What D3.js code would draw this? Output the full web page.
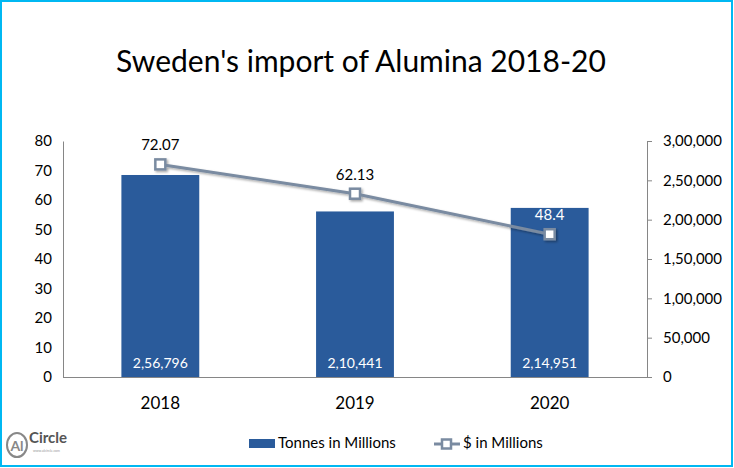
<!DOCTYPE html>
<html><head><meta charset="utf-8">
<script src="https://cdn.jsdelivr.net/npm/d3@7"></script>
<style>body{margin:0;background:#fff}svg{display:block}text{font-family:Lato,"Open Sans",sans-serif}</style>
</head><body><svg id="c" width="734" height="468"></svg>
<script>
const years = ["2018","2019","2020"];
const tonnes = [256796, 210441, 214951];
const dollars = [72.07, 62.13, 48.4];
const leftTicks = [0,10,20,30,40,50,60,70,80];
const rightTicks = [0,50000,100000,150000,200000,250000,300000];
const title = "Sweden's import of Alumina 2018-20";

const svg = d3.select("#c");
const L = 63, R = 647, T = 141, B = 377;
const barColor = "#2A5B9B", lineColor = "#7A8BA1";

svg.append("rect").attr("x",1).attr("y",1).attr("width",731).attr("height",465)
  .attr("fill","#fff").attr("stroke","#00B8F2").attr("stroke-width",2);

svg.append("text").attr("x",361).attr("y",72).attr("text-anchor","middle")
  .attr("font-size",30).attr("fill","#000").text(title);

const x = d3.scaleBand().domain(years).range([L,R]);
const yL = d3.scaleLinear().domain([0,80]).range([B,T]);
const yR = d3.scaleLinear().domain([0,300000]).range([B,T]);
const inr = v => { const s = String(v); if (s.length<=3) return s; const last3 = s.slice(-3); let rest = s.slice(0,-3); rest = rest.replace(/\B(?=(\d{2})+(?!\d))/g, ","); return rest+","+last3; };

// bars
const bw = x.bandwidth()*0.4;
svg.selectAll(".bar").data(years).enter().append("rect")
  .attr("x",d=>x(d)+x.bandwidth()/2-bw/2).attr("width",bw)
  .attr("y",(d,i)=>yR(tonnes[i])).attr("height",(d,i)=>B-yR(tonnes[i]))
  .attr("fill",barColor);
svg.selectAll(".bl").data(years).enter().append("text")
  .attr("x",d=>x(d)+x.bandwidth()/2).attr("y",368).attr("text-anchor","middle")
  .attr("font-size",14).attr("fill","#fff").text((d,i)=>inr(tonnes[i]));

// axes
const gl = svg.append("g").attr("transform",`translate(${L},0)`)
  .call(d3.axisLeft(yL).tickValues(leftTicks).tickSize(0).tickPadding(11));
gl.select(".domain").attr("stroke","#868686");
gl.selectAll("text").attr("font-size",15).attr("fill","#000").style("font-family","Lato,sans-serif");
const gr = svg.append("g").attr("transform",`translate(${R},0)`)
  .call(d3.axisRight(yR).tickValues(rightTicks).tickSize(5).tickPadding(11).tickFormat(inr).tickSizeOuter(0));
gr.select(".domain").attr("stroke","#868686");
gr.selectAll("line").attr("stroke","#868686");
gr.selectAll("text").attr("font-size",15).attr("fill","#000").style("font-family","Lato,sans-serif");
svg.append("line").attr("x1",L).attr("x2",R+5).attr("y1",B+0.5).attr("y2",B+0.5).attr("stroke","#868686");
svg.selectAll(".xl").data(years).enter().append("text")
  .attr("x",d=>x(d)+x.bandwidth()/2).attr("y",409).attr("text-anchor","middle")
  .attr("font-size",17).attr("fill","#000").text(d=>d);

// line
const defs = svg.append("defs");
const f = defs.append("filter").attr("id","sh").attr("x","-20%").attr("y","-50%").attr("width","140%").attr("height","200%");
f.append("feDropShadow").attr("dx",1.5).attr("dy",1.5).attr("stdDeviation",1.2).attr("flood-color","#000").attr("flood-opacity",0.35);
const pts = years.map((d,i)=>[x(d)+x.bandwidth()/2, yL(dollars[i])]);
const lg = svg.append("g").attr("filter","url(#sh)");
lg.append("path").attr("d",d3.line()(pts)).attr("fill","none").attr("stroke",lineColor).attr("stroke-width",3);
lg.selectAll("rect").data(pts).enter().append("rect")
  .attr("x",p=>p[0]-5).attr("y",p=>p[1]-5).attr("width",10).attr("height",10)
  .attr("fill","#fff").attr("stroke",lineColor).attr("stroke-width",2.5);
svg.selectAll(".ll").data(pts).enter().append("text")
  .attr("x",p=>p[0]).attr("y",p=>p[1]-14).attr("text-anchor","middle")
  .attr("font-size",15).attr("fill",(p,i)=>i===2?"#fff":"#000").text((p,i)=>dollars[i]);

// legend
svg.append("rect").attr("x",249).attr("y",439).attr("width",26).attr("height",9).attr("fill",barColor);
svg.append("text").attr("x",278).attr("y",448).attr("font-size",15).attr("fill","#000").text("Tonnes in Millions");
svg.append("line").attr("x1",434).attr("x2",460).attr("y1",444).attr("y2",444).attr("stroke",lineColor).attr("stroke-width",3);
svg.append("rect").attr("x",442).attr("y",439.5).attr("width",9).attr("height",9).attr("fill","#fff").attr("stroke",lineColor).attr("stroke-width",2.5);
svg.append("text").attr("x",463).attr("y",448).attr("font-size",15).attr("fill","#000").text("$ in Millions");

// logo
const lo = svg.append("g");
lo.append("ellipse").attr("cx",17).attr("cy",445).attr("rx",10).attr("ry",12).attr("fill","none").attr("stroke","#888").attr("stroke-width",2);
lo.append("text").attr("x",17).attr("y",451).attr("text-anchor","middle").attr("font-size",14).attr("font-weight","bold").attr("fill","#888").text("Al");
lo.append("text").attr("x",29).attr("y",443).attr("font-size",15).attr("font-weight","bold").attr("fill","#555").text("Circle");
lo.append("text").attr("x",33).attr("y",452).attr("font-size",3.5).attr("fill","#999").text("www.alcircle.com");
</script></body></html>
